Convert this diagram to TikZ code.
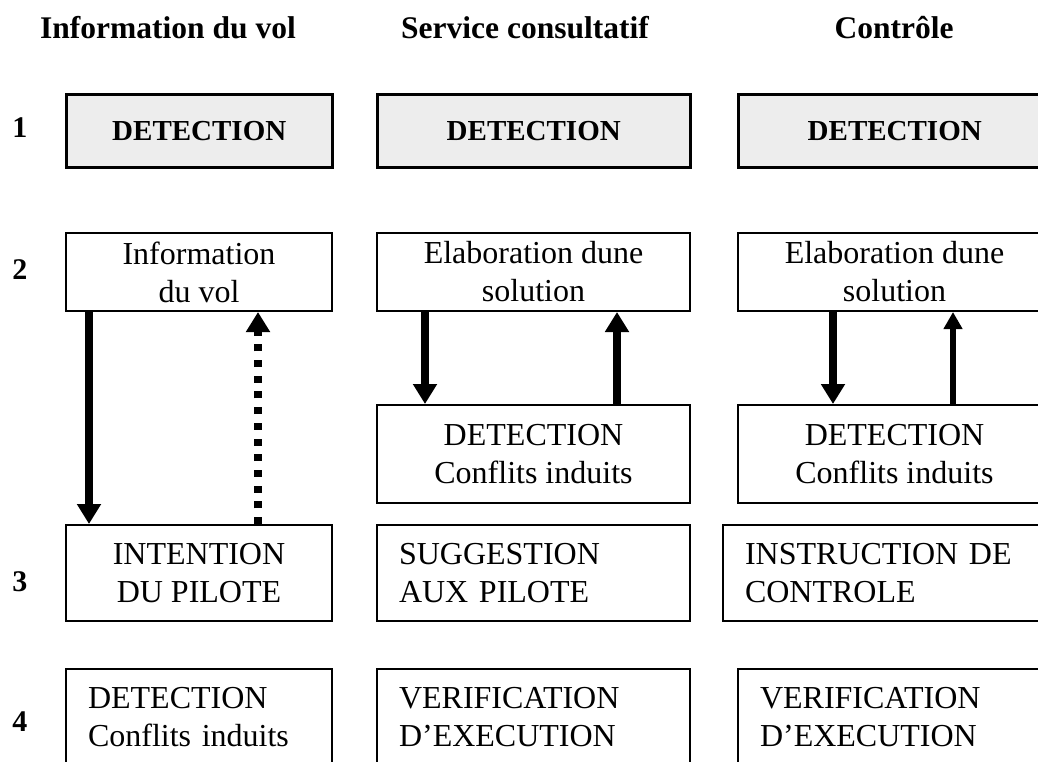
\documentclass[tikz,border=0pt]{standalone}
\usepackage{fontspec}
\setmainfont{Liberation Serif}
\usetikzlibrary{arrows.meta}
\def\boxlw{2pt}
\newcommand{\bodyfont}{\fontsize{32}{38}\selectfont}
\tikzset{
  cell/.style={draw,line width=\boxlw,inner sep=0pt,font=\bodyfont,align=center,anchor=north west},
  detbox/.style={cell,fill=gray!14,line width=2.5pt,font=\fontsize{29}{35}\selectfont\bfseries},
  lcell/.style={cell,align=left,inner xsep=22pt,text width=#1},
  colA/.style={minimum width=266pt},
  colB/.style={minimum width=313pt},
  hdr/.style={font=\fontsize{31.5}{36}\selectfont\bfseries},
  num/.style={font=\fontsize{30}{36}\selectfont\bfseries},
  flow/.style={line width=8pt,-{Triangle[width=23pt,length=20pt]}},
  thinflow/.style={line width=6pt,-{Triangle[width=18pt,length=17pt]}},
  dotflow/.style={flow,dash pattern=on 7pt off 8.7pt}
}

\begin{document}
\begin{tikzpicture}[x=1pt,y=-1pt]
\useasboundingbox (0,0) rectangle (1038,761);
\clip (0,0) rectangle (1038,761);
% column titles and row numbers
\node[hdr] (hinfo) at (168,28) {Information du vol};
\node[hdr] (hserv) at (525,28) {Service consultatif};
\node[hdr] (hctrl) at (894,28) {Contrôle};
\node[num] (n1) at (20,128) {1};
\node[num] (n2) at (20,270) {2};
\node[num] (n3) at (20,582) {3};
\node[num] (n4) at (20,722) {4};
% row 1
\node[detbox,colA,minimum height=73pt] (detA) at (65,93) {DETECTION};
\node[detbox,colB,minimum height=73pt] (detB) at (376,93) {DETECTION};
\node[detbox,colB,minimum height=73pt] (detC) at (737,93) {DETECTION};
% row 2
\node[cell,colA,minimum height=78pt] (info) at (65,232) {Information\\du vol};
\node[cell,colB,minimum height=78pt] (elabB) at (376,232) {Elaboration dune\\solution};
\node[cell,colB,minimum height=78pt] (elabC) at (737,232) {Elaboration dune\\solution};
\node[cell,colB,minimum height=98pt] (confB) at (376,404) {DETECTION\\Conflits induits};
\node[cell,colB,minimum height=98pt] (confC) at (737,404) {DETECTION\\Conflits induits};
% row 3
\node[cell,colA,minimum height=96pt] (intent) at (65,524) {INTENTION\\DU PILOTE};
\node[lcell=269pt,minimum height=96pt] (sugg) at (376,524) {SUGGESTION\\AUX PILOTE};
\node[lcell=284pt,minimum height=96pt] (instr) at (722,524) {INSTRUCTION DE\\CONTROLE};
% row 4
\node[lcell=222pt,minimum height=96pt] (confA) at (65,668) {DETECTION\\Conflits induits};
\node[lcell=269pt,minimum height=96pt] (verB) at (376,668) {VERIFICATION\\D'EXECUTION};
\node[lcell=269pt,minimum height=96pt] (verC) at (737,668) {VERIFICATION\\D'EXECUTION};
% arrows
\draw[flow] ([xshift=24pt]info.south west) -- ([xshift=24pt]intent.north west);
\draw[dotflow] ([xshift=193pt]intent.north west) -- ([xshift=193pt]info.south west);
\draw[flow] ([xshift=49pt]elabB.south west) -- ([xshift=49pt]confB.north west);
\draw[flow] ([xshift=241pt]confB.north west) -- ([xshift=241pt]elabB.south west);
\draw[flow] ([xshift=96pt]elabC.south west) -- ([xshift=96pt]confC.north west);
\draw[thinflow] ([xshift=216pt]confC.north west) -- ([xshift=216pt]elabC.south west);
\end{tikzpicture}
\end{document}
